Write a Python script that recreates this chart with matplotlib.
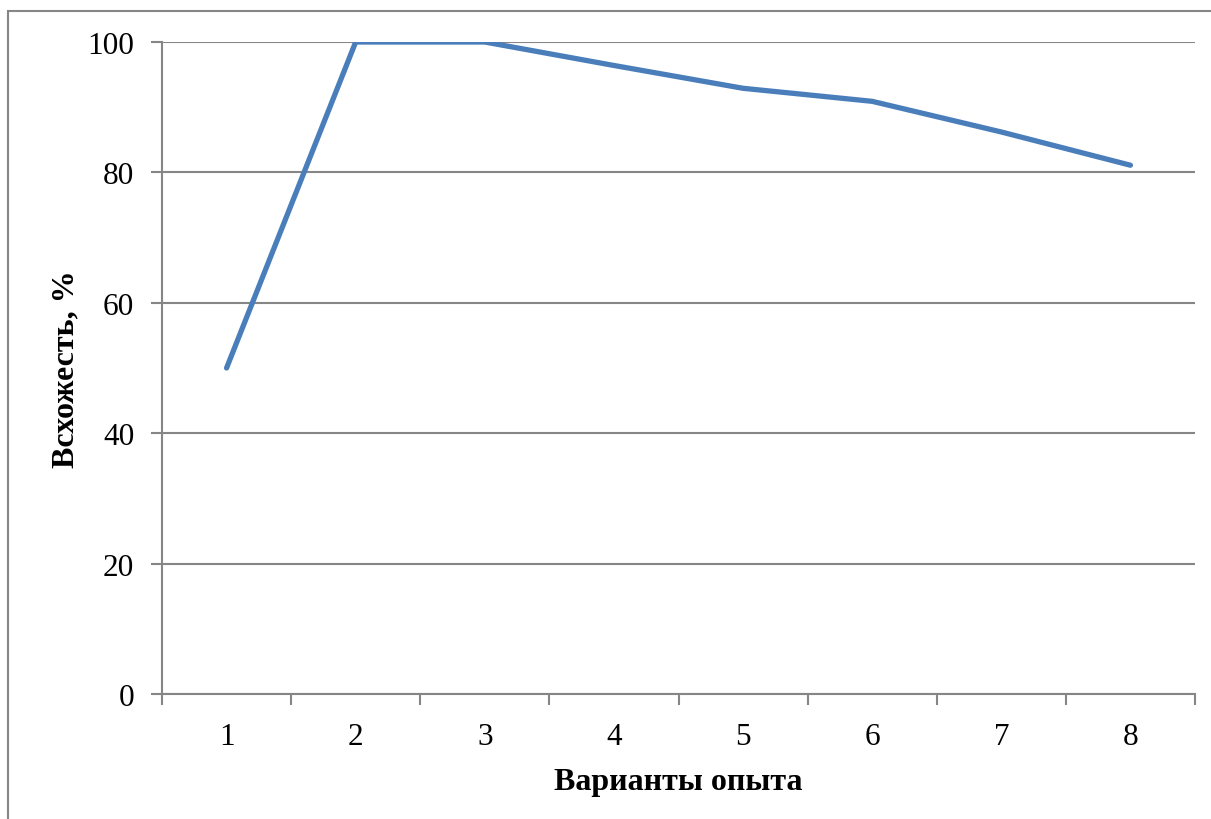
import matplotlib
matplotlib.use("Agg")
import matplotlib.pyplot as plt
from matplotlib.patches import Rectangle

# data
variants = ["1", "2", "3", "4", "5", "6", "7", "8"]
germination = [50.0, 100.0, 100.0, 96.4, 92.9, 90.9, 86.2, 81.1]

LINE_C = "#4a7ebb"
AXIS_C = "#868686"

plt.rcParams["font.family"] = ["Liberation Serif", "DejaVu Serif"]

W, H = 1211, 820
fig = plt.figure(figsize=(W / 100, H / 100), dpi=100)
ax = fig.add_axes([162 / W, 1 - 695 / H, (1195 - 162) / W, (695 - 43) / H])

# outer chart frame (runs off the right and bottom edges)
fig.patches.append(Rectangle((8 / W, -0.1), 1.2, 1 - 12 / H + 0.1,
                             transform=fig.transFigure, fill=False,
                             edgecolor=AXIS_C, lw=1.5))

x = list(range(len(variants)))
ax.plot(x, germination, color=LINE_C, lw=3.8, solid_capstyle="round",
        solid_joinstyle="round", zorder=3)

ax.set_xlim(-0.5, len(variants) - 0.5)
ax.set_ylim(0, 100)
ax.set_yticks(range(0, 101, 20))
ax.set_xticks(x)
ax.set_xticklabels(variants)
ax.set_xticks([i - 0.5 for i in range(len(variants) + 1)], minor=True)
ax.tick_params(axis="x", which="major", length=0, pad=20, labelsize=22.5)
ax.tick_params(axis="x", which="minor", length=8, width=1.5, color=AXIS_C)
ax.tick_params(axis="y", length=8, width=1.5, color=AXIS_C, pad=12, labelsize=22.5)

ax.grid(axis="y", color=AXIS_C, lw=1.5)
ax.set_axisbelow(True)
for s in ("top", "right"):
    ax.spines[s].set_visible(False)
for s in ("left", "bottom"):
    ax.spines[s].set_color(AXIS_C)
    ax.spines[s].set_linewidth(1.5)

ax.set_xlabel("Варианты опыта", fontsize=23, fontweight="bold", labelpad=12)
ax.set_ylabel("Всхожесть, %", fontsize=23, fontweight="bold", labelpad=5)

fig.savefig("out.png", dpi=100)
